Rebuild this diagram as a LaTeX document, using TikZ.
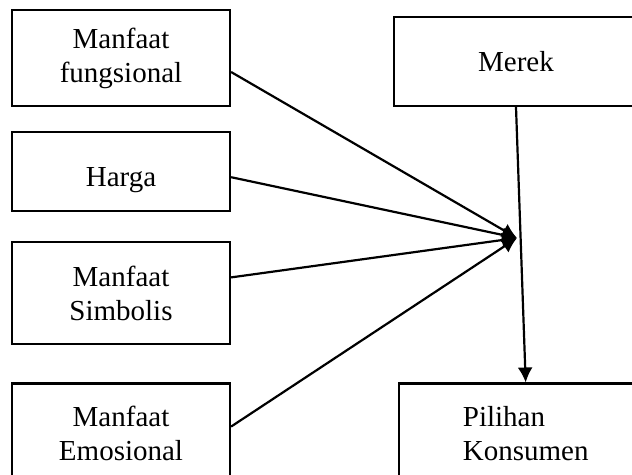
\documentclass[tikz,border=0pt]{standalone}
\usepackage{fontspec}
\setmainfont{Liberation Serif}
\usetikzlibrary{arrows.meta,positioning}

\begin{document}
\begin{tikzpicture}[
  x=0.5pt, y=-0.5pt,
  box/.style={rectangle, draw, line width=1.1pt, minimum width=109pt,
              font=\fontsize{14.5}{17}\selectfont, align=center},
  arr/.style={-{Latex[length=7.5pt,width=7.5pt]}, line width=1.1pt},
]
\useasboundingbox (0,0) rectangle (632,475);

\node[box, minimum height=48pt] (fungsi) at (121,58) {Manfaat\\fungsional};
\node[box, minimum height=39.5pt, text height=18pt, text depth=3pt, below=12pt of fungsi] (harga) {Harga};
\node[box, minimum height=51pt, below=14.5pt of harga] (simbol) {Manfaat\\Simbolis};
\node[box, minimum height=50pt, below=18.5pt of simbol] (emosi) {Manfaat\\Emosional};

\node[box, minimum width=122pt, minimum height=44.5pt] (merek) at (516,61.5) {Merek};
\node[box, minimum width=126.5pt, minimum height=50pt, align=left, right=83.5pt of emosi] (pilihan) {Pilihan\\Konsumen};

\coordinate (hub) at (517,238);

\draw[arr] ([yshift=-7pt]fungsi.east) -- (hub);
\draw[arr] ([yshift=-2.75pt]harga.east) -- (hub);
\draw[arr] ([yshift=8pt]simbol.east) -- (hub);
\draw[arr] ([yshift=3.5pt]emosi.east) -- (hub);

\draw[arr] (merek.south) -- (pilihan.north);

\end{tikzpicture}
\end{document}
